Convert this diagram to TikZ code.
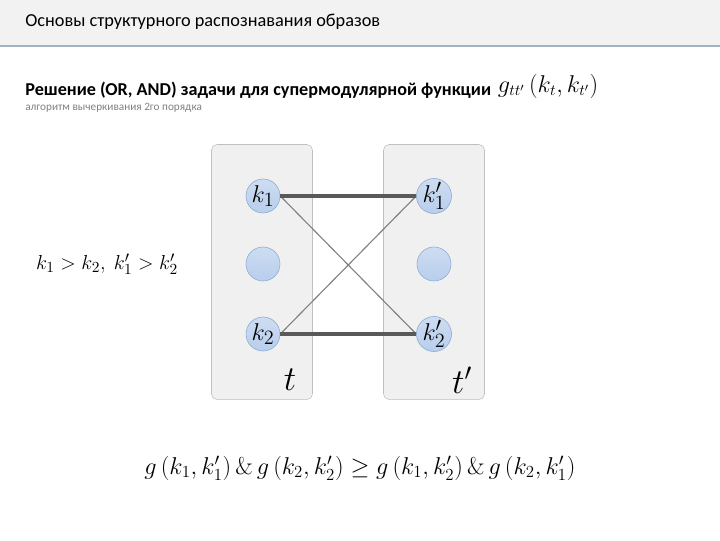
\documentclass[tikz,border=0pt]{standalone}
\usepackage[no-math]{fontspec}
\setmainfont{Carlito}
\usetikzlibrary{positioning}

\definecolor{headbg}{RGB}{242,242,242}
\definecolor{headline}{RGB}{160,180,196}
\definecolor{boxfill}{RGB}{240,240,240}
\definecolor{boxdraw}{RGB}{192,192,192}
\definecolor{ballfill}{RGB}{184,206,236}
\definecolor{balldraw}{RGB}{140,170,212}
\definecolor{edgedark}{RGB}{89,89,89}
\definecolor{edgelight}{RGB}{128,128,128}

\tikzset{
    column/.style={
        rectangle, rounded corners=4pt, minimum width=2.525cm, minimum height=6.375cm, draw=boxdraw, fill=boxfill
    },
    label/.style={
        circle, minimum size=0.85cm, inner sep=0pt, draw=balldraw, top color=ballfill!70, bottom color=ballfill, font=\fontsize{19}{22}\selectfont
    },
    strong/.style={
        line width=2.6pt, draw=edgedark
    },
    weak/.style={
        line width=0.8pt, draw=edgelight
    }
}

\begin{document}
\begin{tikzpicture}[x=0.025cm, y=-0.025cm]

    % Page frame
    \useasboundingbox (0,0) rectangle (720,540);

    % Header
    \fill[headbg] (0,0) rectangle (720,45);
    \draw[headline, line width=1.2pt] (0,46) -- (720,46);
    \node[anchor=west, inner sep=0pt, font=\fontsize{13}{15}\selectfont] (title) at (25,22) {Основы структурного распознавания образов};

    % Subtitle
    \node[anchor=west, inner sep=0pt, font=\bfseries\fontsize{12.9}{15}\selectfont] (task) at (25,90) {Решение (OR, AND) задачи для супермодулярной функции};
    \node[anchor=west, inner sep=0pt, text=gray, font=\fontsize{8}{9}\selectfont] (algo) at (25,108) {алгоритм вычеркивания 2го порядка};
    \node[font=\fontsize{16}{20}\selectfont] (gfun) at (548,86) {$g_{tt'}\left(k_t,k_{t'}\right)$};

    % Columns
    \node[column] (colt) at (262,272) {};
    \node[column] (colu) at (434,272) {};

    % Labels of column t
    \node[label] (k1) at (263,196) {$k_1$};
    \node[label] (kt) at (263,264) {};
    \node[label] (k2) at (263,334) {$k_2$};

    % Labels of column t'
    \node[label] (k1p) at (434,196) {$k_1'$};
    \node[label] (ktp) at (434,264) {};
    \node[label] (k2p) at (434,334) {$k_2'$};

    % Column names
    \node[font=\fontsize{24}{28}\selectfont] (tname) at (290,380) {$t$};
    \node[font=\fontsize{24}{28}\selectfont] (tpname) at (462,380) {$t'$};

    % Edges
    \draw[weak] (k1.east) -- (k2p.west);
    \draw[weak] (k2.east) -- (k1p.west);
    \draw[strong] (k1) -- (k1p);
    \draw[strong] (k2) -- (k2p);

    % Order of labels
    \node[font=\fontsize{15}{18}\selectfont] (order) at (107,264) {$k_1>k_2,\ k_1'>k_2'$};

    % Supermodularity
    \node[font=\fontsize{18}{22}\selectfont] (ineq) at (360,468) {$g\left(k_1,k_1'\right)\&\,g\left(k_2,k_2'\right)\geq g\left(k_1,k_2'\right)\&\,g\left(k_2,k_1'\right)$};

\end{tikzpicture}
\end{document}
